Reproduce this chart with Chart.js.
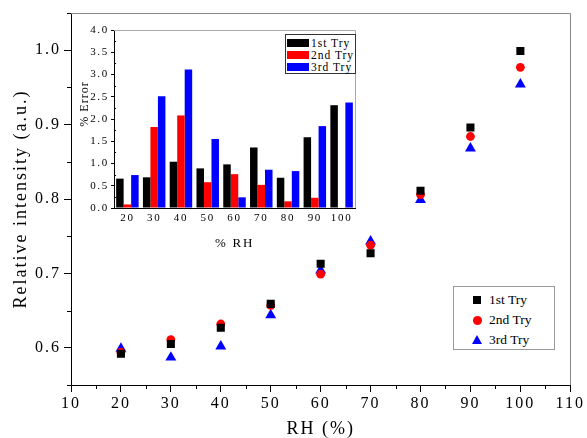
<!DOCTYPE html>
<html>
<head>
<meta charset="utf-8">
<script src="https://cdn.jsdelivr.net/npm/chart.js@4.4.1/dist/chart.umd.min.js"></script>
<style>
  html, body { margin: 0; padding: 0; background: #fff; }
  #wrap { position: relative; width: 587px; height: 438px; font-family: "Liberation Serif", serif; color: #000; }
  #main { position: absolute; left: 0; top: 0; }
  #inset { position: absolute; left: 78px; top: 18px; }
  .box { position: absolute; background: #fff; }
  .row { position: absolute; left: 0; height: 14px; line-height: 14px; white-space: nowrap; }
  .mk { position: absolute; }
  #errTitle { position: absolute; left: 57px; top: 97px; width: 54px; height: 14px; line-height: 14px;
              text-align: center; font-size: 12px; letter-spacing: 1px; transform: rotate(-90deg); white-space: nowrap; }
</style>
</head>
<body>
<div id="wrap">
  <canvas id="main" width="587" height="438"></canvas>
  <canvas id="inset" width="290" height="240"></canvas>
  <div id="errTitle">% Error</div>

  <!-- legend of the inset (bars) -->
  <div class="box" style="left:285px; top:34px; width:69px; height:38px; border:1px solid #333;">
    <div class="row" style="top:1px;"><span class="mk" style="left:1px; top:3px; width:22px; height:8px; background:#000;"></span><span style="position:absolute; left:25px; font-size:11.5px; letter-spacing:1px;">1st Try</span></div>
    <div class="row" style="top:13px;"><span class="mk" style="left:1px; top:3px; width:22px; height:8px; background:#f00;"></span><span style="position:absolute; left:25px; font-size:11.5px; letter-spacing:1px;">2nd Try</span></div>
    <div class="row" style="top:25px;"><span class="mk" style="left:1px; top:3px; width:22px; height:8px; background:#00f;"></span><span style="position:absolute; left:25px; font-size:11.5px; letter-spacing:1px;">3rd Try</span></div>
  </div>

  <!-- legend of the main plot (points) -->
  <div class="box" style="left:453px; top:286px; width:100px; height:62px; border:1px solid #999;">
    <div class="row" style="top:5px; height:16px; line-height:16px;"><span class="mk" style="left:19px; top:4px; width:8px; height:8px; background:#000;"></span><span style="position:absolute; left:35px; font-size:13.5px;">1st Try</span></div>
    <div class="row" style="top:25px; height:16px; line-height:16px;"><span class="mk" style="left:18.5px; top:3.5px; width:9px; height:9px; border-radius:50%; background:#f00;"></span><span style="position:absolute; left:35px; font-size:13.5px;">2nd Try</span></div>
    <div class="row" style="top:45px; height:16px; line-height:16px;"><span class="mk" style="left:18px; top:3px; width:0; height:0; border-left:5px solid transparent; border-right:5px solid transparent; border-bottom:9px solid #00f;"></span><span style="position:absolute; left:35px; font-size:13.5px;">3rd Try</span></div>
  </div>
</div>

<script>
// 주 그래프 데이터 (RH %, 상대 강도)
const rh = [20, 30, 40, 50, 60, 70, 80, 90, 100];
const try1 = [0.592, 0.605, 0.627, 0.659, 0.713, 0.727, 0.811, 0.896, 0.999];
const try2 = [0.594, 0.611, 0.632, 0.657, 0.699, 0.738, 0.806, 0.884, 0.977];
const try3 = [0.599, 0.587, 0.602, 0.644, 0.704, 0.743, 0.799, 0.868, 0.954];

// 눈금
const xMajor = [10, 20, 30, 40, 50, 60, 70, 80, 90, 100, 110];
const xMinor = [15, 25, 35, 45, 55, 65, 75, 85, 95, 105];
const yMajor = [0.6, 0.7, 0.8, 0.9, 1.0];
const yMinor = [0.55, 0.65, 0.75, 0.85, 0.95, 1.05];

// 삽입 그래프 데이터 (% Error)
const errLabels = ['20', '30', '40', '50', '60', '70', '80', '90', '100'];
const err1 = [0.66, 0.69, 1.04, 0.89, 0.98, 1.36, 0.68, 1.59, 2.31];
const err2 = [0.08, 1.82, 2.08, 0.58, 0.76, 0.52, 0.15, 0.23, 0];
const err3 = [0.74, 2.51, 3.11, 1.55, 0.24, 0.86, 0.83, 1.84, 2.37];
const errMinor = [0.25, 0.75, 1.25, 1.75, 2.25, 2.75, 3.25, 3.75];

Chart.defaults.font.family = '"Liberation Serif", "Times New Roman", serif';
Chart.defaults.color = '#000';

// 글자 간격 (원본 글꼴이 넓게 보임)
const spacing = {
    id: 'spacing',
    beforeUpdate(chart, args, opts) { chart.ctx.letterSpacing = opts.value; },
    beforeDraw(chart, args, opts) { chart.ctx.letterSpacing = opts.value; }
};

// 보조 눈금 + 위/오른쪽 테두리
const frame = {
    id: 'frame',
    afterDraw(chart, args, opts) {
        const { ctx, chartArea: a, scales } = chart;
        ctx.save();
        ctx.strokeStyle = opts.color;
        ctx.lineWidth = 1;
        ctx.beginPath();
        ctx.moveTo(a.left, Math.round(a.top) + 0.5);
        ctx.lineTo(Math.round(a.right) + 0.5, Math.round(a.top) + 0.5);
        ctx.lineTo(Math.round(a.right) + 0.5, a.bottom);
        ctx.stroke();

        ctx.strokeStyle = '#000';
        ctx.beginPath();
        (opts.xMinor || []).forEach(v => {
            const px = Math.round(scales.x.getPixelForValue(v)) + 0.5;
            ctx.moveTo(px, a.bottom);
            ctx.lineTo(px, a.bottom + opts.len);
        });
        (opts.yMinor || []).forEach(v => {
            const py = Math.round(scales.y.getPixelForValue(v)) + 0.5;
            ctx.moveTo(a.left, py);
            ctx.lineTo(a.left + opts.len * opts.yDir, py);
        });
        ctx.stroke();
        ctx.restore();
    }
};

const toPoints = ys => rh.map((x, i) => ({ x, y: ys[i] }));

new Chart(document.getElementById('main'), {
    type: 'scatter',
    data: {
        datasets: [
            { label: '1st Try', data: toPoints(try1), pointStyle: 'rect', pointRadius: 5.7, backgroundColor: '#000', borderColor: '#000', borderWidth: 0 },
            { label: '2nd Try', data: toPoints(try2), pointStyle: 'circle', pointRadius: 4.4, backgroundColor: '#ff0000', borderColor: '#ff0000', borderWidth: 0 },
            { label: '3rd Try', data: toPoints(try3), pointStyle: 'triangle', pointRadius: 6.3, backgroundColor: '#0000ff', borderColor: '#0000ff', borderWidth: 0 }
        ]
    },
    options: {
        responsive: false,
        animation: false,
        layout: { padding: { top: 13, right: 14, left: 0, bottom: 0 } },
        plugins: {
            legend: { display: false },
            tooltip: { enabled: false },
            spacing: { value: '2px' },
            frame: { color: '#888', xMinor, yMinor, len: 4, yDir: -1 }
        },
        scales: {
            x: {
                type: 'linear', min: 10, max: 110,
                afterFit: s => { s.height = 53; },
                afterBuildTicks: s => { s.ticks = xMajor.map(value => ({ value })); },
                ticks: { font: { size: 16 }, padding: 2, maxRotation: 0, autoSkip: false },
                grid: { drawOnChartArea: false, tickLength: 7, tickColor: '#000' },
                border: { color: '#000', width: 1 },
                title: { display: true, text: 'RH (%)', font: { size: 18, lineHeight: 1 }, padding: { top: 0, bottom: 0 } }
            },
            y: {
                type: 'linear', min: 0.55, max: 1.05,
                afterFit: s => { s.width = 71; },
                afterBuildTicks: s => { s.ticks = yMajor.map(value => ({ value })); },
                ticks: { font: { size: 16 }, padding: 3, callback: v => v.toFixed(1) },
                grid: { drawOnChartArea: false, tickLength: 7, tickColor: '#000' },
                border: { color: '#000', width: 1 },
                title: { display: true, text: 'Relative intensity (a.u.)', font: { size: 18 }, padding: { top: 10 } }
            }
        }
    },
    plugins: [spacing, frame]
});

new Chart(document.getElementById('inset'), {
    type: 'bar',
    data: {
        labels: errLabels,
        datasets: [
            { label: '1st Try', data: err1, backgroundColor: '#000' },
            { label: '2nd Try', data: err2, backgroundColor: '#ff0000' },
            { label: '3rd Try', data: err3, backgroundColor: '#0000ff' }
        ]
    },
    options: {
        responsive: false,
        animation: false,
        layout: { padding: { top: 12, right: 13, left: 0, bottom: 0 } },
        datasets: { bar: { categoryPercentage: 0.84, barPercentage: 1.0 } },
        plugins: {
            legend: { display: false },
            tooltip: { enabled: false },
            spacing: { value: '1.7px' },
            frame: { color: '#aaa', yMinor: errMinor, len: 2, yDir: 1 }
        },
        scales: {
            x: {
                afterFit: s => { s.height = 50; },
                ticks: { font: { size: 11 }, padding: 4, maxRotation: 0 },
                grid: { display: false, drawTicks: false },
                border: { color: '#000', width: 1 },
                title: { display: true, text: '% RH', font: { size: 13 }, padding: { top: 0, bottom: 7 } }
            },
            y: {
                min: 0, max: 4,
                afterFit: s => { s.width = 36; },
                ticks: { stepSize: 0.5, font: { size: 11 }, padding: 2, callback: v => v.toFixed(1) },
                grid: { drawOnChartArea: false, tickLength: 3, tickColor: '#000' },
                border: { color: '#000', width: 1 },
                title: { display: false }
            }
        }
    },
    plugins: [spacing, frame]
});
</script>
</body>
</html>
